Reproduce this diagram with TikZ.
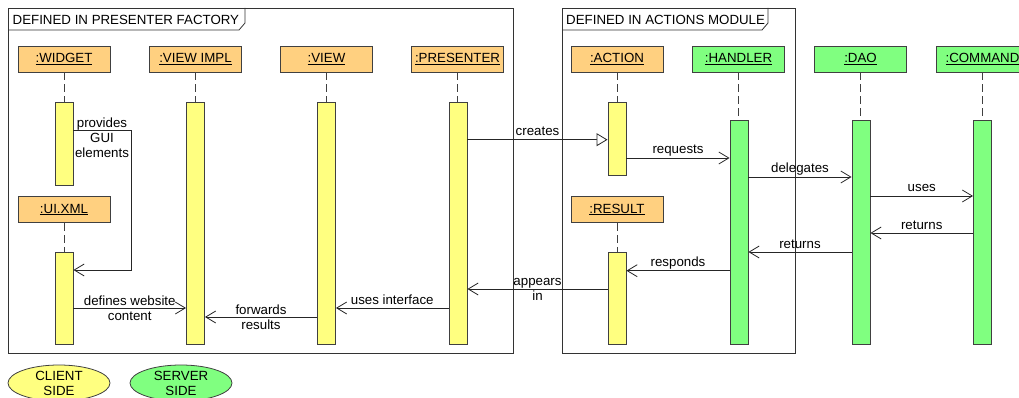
\documentclass[tikz,border=0pt]{standalone}
\usepackage{fontspec}
\setmainfont{Liberation Sans}
\usetikzlibrary{arrows.meta,shapes.geometric}
\definecolor{orangeC}{HTML}{FFD080}
\definecolor{yellowC}{HTML}{FFFF80}
\definecolor{greenC}{HTML}{80FF80}
\definecolor{edgeC}{HTML}{404040}
\newcommand{\fs}{\fontsize{13.3}{15}\selectfont}
\tikzset{
  head/.style={draw=edgeC, line width=0.9pt, fill=orangeC, minimum width=92pt, minimum height=26pt, inner sep=0pt, font=\fs},
  headG/.style={head, fill=greenC},
  actY/.style={draw=edgeC, line width=0.9pt, fill=yellowC, minimum width=18pt, inner sep=0pt},
  actG/.style={actY, fill=greenC},
  life/.style={draw=edgeC, line width=0.8pt, dash pattern=on 8pt off 4pt},
  msg/.style={draw=black!85, line width=0.8pt, -{Straight Barb[length=10pt,width=12pt]}},
  crt/.style={draw=black!85, line width=0.8pt, -{Triangle[open, fill=white, length=11pt, width=13pt]}},
  lblA/.style={font=\fs, anchor=base, yshift=4pt, inner sep=0pt},
  lblC/.style={font=\fs, align=center, inner sep=0pt},
  frm/.style={draw=black!80, line width=0.8pt, inner sep=0pt},
  legend/.style={ellipse, draw=edgeC, line width=0.8pt, minimum width=102pt, minimum height=36pt, inner sep=0pt, font=\fs, align=center}
}
\begin{document}
\begin{tikzpicture}[x=1pt,y=-1pt]
\useasboundingbox (0,0) rectangle (1019,398);
% frames
\node[frm, minimum width=505pt, minimum height=345pt] (f1) at (260.5,180.5) {};
\draw[frm] (8,30) -- (239,30) -- (245,23) -- (245,8);
\node[font=\fs, anchor=base west, inner sep=0pt] (f1t) at (12.5,24.5) {DEFINED IN PRESENTER FACTORY};
\node[frm, minimum width=233pt, minimum height=345pt] (f2) at (678.5,180.5) {};
\draw[frm] (562,30) -- (762,30) -- (768,23) -- (768,8);
\node[font=\fs, anchor=base west, inner sep=0pt] (f2t) at (566,24.5) {DEFINED IN ACTIONS MODULE};

% headers
\node[head] (hw) at (64,59) {\underline{:WIDGET}};
\node[head] (hvi) at (195.5,59) {\underline{:VIEW IMPL}};
\node[head] (hv) at (326.5,59) {\underline{:VIEW}};
\node[head] (hp) at (457.5,59) {\underline{:PRESENTER}};
\node[head] (ha) at (617,59) {\underline{:ACTION}};
\node[headG] (hh) at (738.5,59) {\underline{:HANDLER}};
\node[headG] (hd) at (860.5,59) {\underline{:DAO}};
\node[headG] (hc) at (982.5,59) {\underline{:COMMAND}};
\node[head] (hu) at (64,209.5) {\underline{:UI.XML}};
\node[head] (hr) at (617,209.5) {\underline{:RESULT}};

% activations
\node[actY, minimum height=83pt] (aw) at (64,143.5) {};
\node[actY, minimum height=92pt] (au) at (64,298) {};
\node[actY, minimum height=242pt] (avi) at (195.5,223) {};
\node[actY, minimum height=242pt] (av) at (326.5,223) {};
\node[actY, minimum height=242pt] (ap) at (458,223) {};
\node[actY, minimum height=73.5pt] (aa) at (617,138.75) {};
\node[actY, minimum height=92pt] (ar) at (617,298) {};
\node[actG, minimum height=223.3pt] (ah) at (739,232.35) {};
\node[actG, minimum height=223.3pt] (ad) at (861,232.35) {};
\node[actG, minimum height=223.3pt] (ac) at (982.5,232.35) {};

% lifelines
\foreach \h/\a in {hw/aw, hvi/avi, hv/av, hp/ap, ha/aa, hh/ah, hd/ad, hc/ac, hu/au, hr/ar}
  \draw[life] (\h.south) -- (\h.south |- \a.north);

% messages
\draw[msg] (aw.east |- 0,130) -- (131,130) -- (131,270) -- (au.east |- 0,270);
\node[lblC] (lp) at (102,137.5) {provides\\GUI\\elements};
\draw[crt] (ap.east |- 0,139.7) -- node[lblA] {creates} (aa.west |- 0,139.7);
\draw[msg] (aa.east |- 0,158) -- node[lblA] {requests} (ah.west |- 0,158);
\draw[msg] (ah.east |- 0,177) -- node[lblA] {delegates} (ad.west |- 0,177);
\draw[msg] (ad.east |- 0,196) -- node[lblA] {uses} (ac.west |- 0,196);
\draw[msg] (ac.west |- 0,233) -- node[lblA] {returns} (ad.east |- 0,233);
\draw[msg] (ad.west |- 0,252) -- node[lblA] {returns} (ah.east |- 0,252);
\draw[msg] (ah.west |- 0,270.7) -- node[lblA] {responds} (ar.east |- 0,270.7);
\draw[msg] (ar.west |- 0,289) -- node[lblC] {appears\\in} (ap.east |- 0,289);
\draw[msg] (ap.west |- 0,308) -- node[lblA] {uses interface} (av.east |- 0,308);
\draw[msg] (av.west |- 0,317) -- node[lblC] {forwards\\results} (avi.east |- 0,317);
\draw[msg] (au.east |- 0,308) -- node[lblC] {defines website\\content} (avi.west |- 0,308);

% legend
\node[legend, fill=yellowC] (lc) at (59,383) {CLIENT\\SIDE};
\node[legend, fill=greenC] (ls) at (181,383) {SERVER\\SIDE};
\end{tikzpicture}
\end{document}
